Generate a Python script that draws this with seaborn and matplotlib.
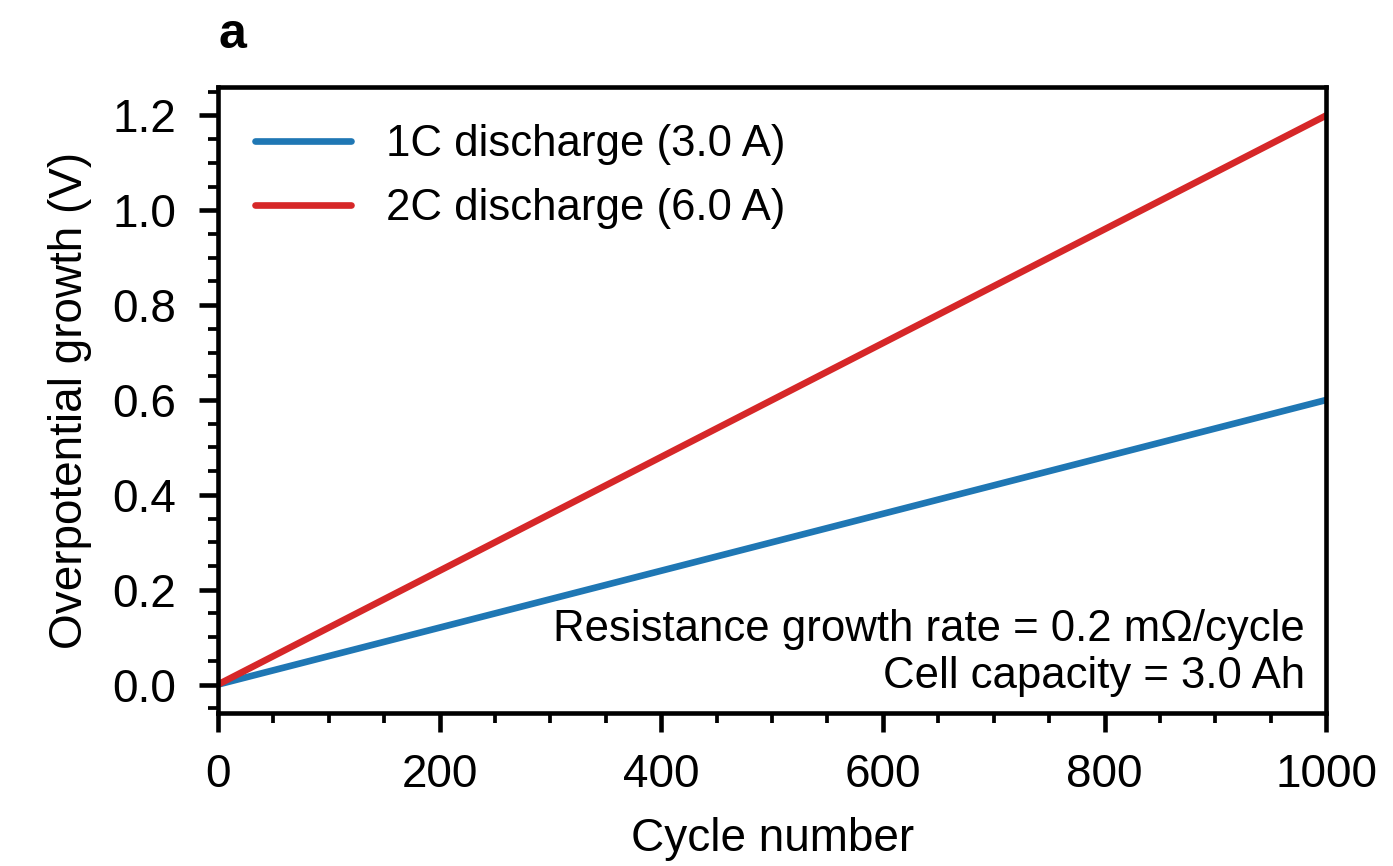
import numpy as np
import pandas as pd
import seaborn as sns
import matplotlib.pyplot as plt
from matplotlib.ticker import MultipleLocator

cycles = [0, 1000]
overpot_1c = [0.0, 0.6]
overpot_2c = [0.0, 1.2]
labels = ['1C discharge (3.0 A)', '2C discharge (6.0 A)']
colors = ['#1f77b4', '#d62728']

df = pd.DataFrame({
    'cycle': cycles * 2,
    'overpotential': overpot_1c + overpot_2c,
    'series': [labels[0]] * len(cycles) + [labels[1]] * len(cycles),
})

sns.set_style('ticks')
plt.rcParams['font.family'] = ['Liberation Sans', 'DejaVu Sans']
plt.rcParams['font.size'] = 11
plt.rcParams['text.color'] = 'black'
plt.rcParams['axes.labelcolor'] = 'black'

fig = plt.figure(figsize=(1393 / 300, 866 / 300), dpi=300)
ax = fig.add_axes([0.1565, 0.1767, 0.7955, 0.7228])

sns.lineplot(data=df, x='cycle', y='overpotential', hue='series',
             palette=colors, linewidth=1.6, ax=ax)

ax.set_xlim(0, 1000)
ax.set_ylim(-0.06, 1.26)
ax.xaxis.set_major_locator(MultipleLocator(200))
ax.xaxis.set_minor_locator(MultipleLocator(50))
ax.yaxis.set_major_locator(MultipleLocator(0.2))
ax.yaxis.set_minor_locator(MultipleLocator(0.05))
ax.yaxis.set_major_formatter(plt.FormatStrFormatter('%.1f'))
ax.tick_params(which='major', direction='out', length=4.5, width=1.1, labelsize=11,
               colors='black')
ax.tick_params(axis='y', which='major', pad=5.5)
ax.tick_params(axis='x', which='major', pad=5)
ax.tick_params(which='minor', direction='out', length=2.5, width=0.9, colors='black')
for s in ax.spines.values():
    s.set_linewidth(1.1)
    s.set_color('black')

ax.set_xlabel('Cycle number', fontsize=11, labelpad=5)
ax.set_ylabel('Overpotential growth (V)', fontsize=11, labelpad=5)

ax.legend(loc='upper left', frameon=False, fontsize=10.5, handlelength=2.2,
          handletextpad=0.8, borderaxespad=0.45, labelspacing=0.52)

ax.text(0.981, 0.025, 'Resistance growth rate = 0.2 m\u03a9/cycle\nCell capacity = 3.0 Ah',
        transform=ax.transAxes, ha='right', va='bottom', fontsize=10.5, linespacing=1.2)

fig.text(0.157, 0.945, 'a', fontsize=12, fontweight='bold', ha='left', va='baseline',
         family=['Liberation Sans', 'DejaVu Sans'])

fig.savefig('out.png', dpi=300)
